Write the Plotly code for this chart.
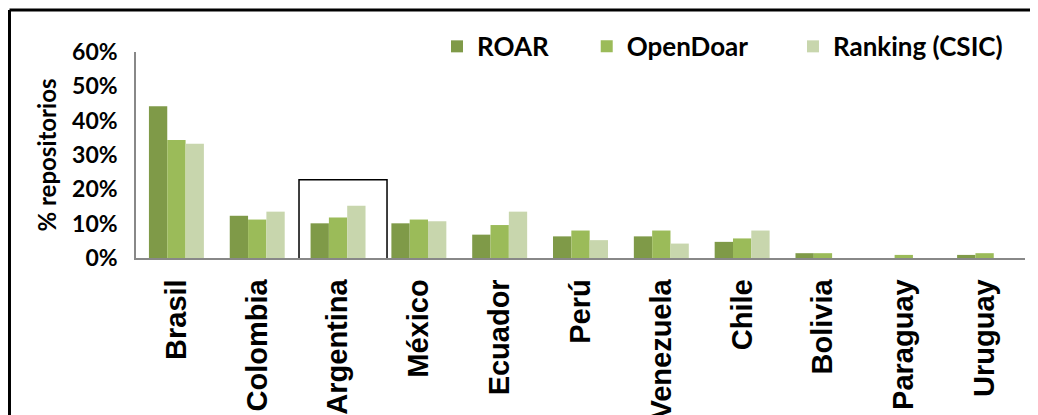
import plotly.graph_objects as go

paises = ["Brasil", "Colombia", "Argentina", "México", "Ecuador", "Perú",
          "Venezuela", "Chile", "Bolivia", "Paraguay", "Uruguay"]
roar = [44.2, 12.3, 10.1, 10.1, 6.8, 6.3, 6.3, 4.7, 1.4, 0.0, 0.9]
opendoar = [34.4, 11.2, 11.8, 11.2, 9.6, 8.0, 8.0, 5.7, 1.4, 0.9, 1.4]
csic = [33.3, 13.5, 15.2, 10.7, 13.5, 5.2, 4.2, 8.0, 0.0, 0.0, 0.0]
y_ticks = [0, 10, 20, 30, 40, 50, 60]
y_tick_text = ["0%", "10%", "20%", "30%", "40%", "50%", "60%"]

series = [("ROAR", roar, "#7F9A48", "legend", 0.3386),
          ("OpenDoar", opendoar, "#9BBB59", "legend2", 0.507),
          ("Ranking (CSIC)", csic, "#C8D6AD", "legend3", 0.739)]

LEG_FONT = dict(family="Lato", size=26, color="#000000", weight="bold")

fig = go.Figure()
for name, vals, col, leg, _ in series:
    fig.add_trace(go.Bar(x=paises, y=vals, name=name, marker_color=col,
                         marker_line_width=0, legend=leg))

layout_legends = {}
for name, vals, col, leg, xpos in series:
    layout_legends[leg] = dict(x=xpos, y=1.027, xanchor="left", yanchor="middle",
                               orientation="h", font=LEG_FONT,
                               bgcolor="rgba(0,0,0,0)", itemwidth=30)

fig.update_layout(
    width=1030, height=407,
    margin=dict(l=128, r=13, t=44, b=157, autoexpand=False),
    paper_bgcolor="white", plot_bgcolor="white",
    barmode="group", bargap=0.32, bargroupgap=0,
    showlegend=True,
    **layout_legends,
    xaxis=dict(showline=True, linecolor="#888888", linewidth=1.5,
               showgrid=False, ticks="", tickangle=-90, automargin=False,
               tickfont=dict(family="Liberation Sans", size=29, color="#000000",
                             weight="bold"),
               ticklabelstandoff=8, range=[-0.5, 10.5]),
    yaxis=dict(showline=True, linecolor="#888888", linewidth=1.5,
               showgrid=False, ticks="", range=[0, 60], automargin=False,
               tickvals=y_ticks, ticktext=y_tick_text,
               tickfont=dict(family="Lato", size=23, color="#000000", weight="bold"),
               ticklabelstandoff=12,
               title=dict(text="% repositorios", standoff=9,
                          font=dict(family="Lato", size=24, color="#000000",
                                    weight="bold"))),
    shapes=[
        # outer frame (top and left edges)
        dict(type="line", xref="paper", yref="paper", x0=-0.1423, x1=1.02,
             y0=1.204, y1=1.204, line=dict(color="#000000", width=3)),
        dict(type="line", xref="paper", yref="paper", x0=-0.1423, x1=-0.1423,
             y0=1.204, y1=-0.8, line=dict(color="#000000", width=3)),
        # highlight box around Argentina
        dict(type="rect", xref="x", yref="y", x0=1.517, x1=2.606,
             y0=-40, y1=22.8, line=dict(color="#000000", width=1.5),
             fillcolor="rgba(0,0,0,0)", layer="above"),
    ],
)

fig.write_html("out.html")
